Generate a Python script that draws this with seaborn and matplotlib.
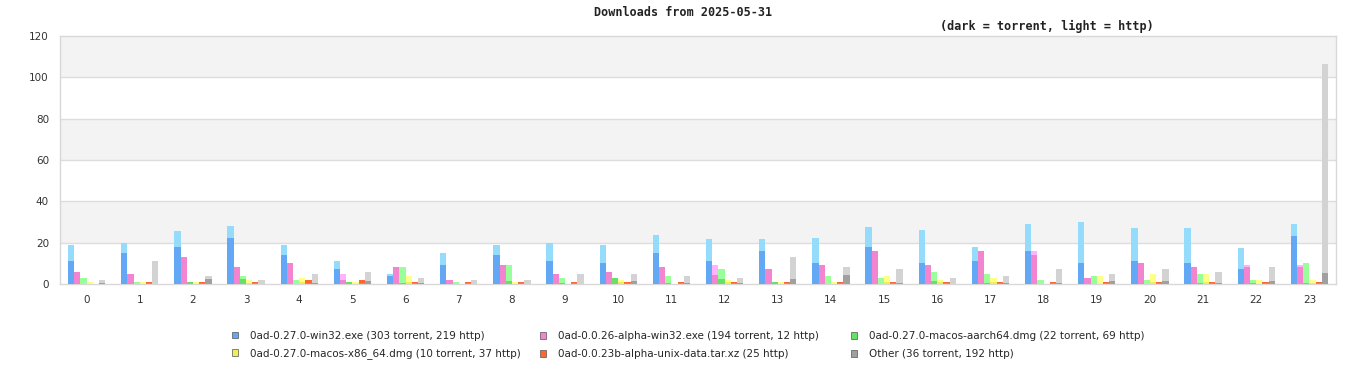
import numpy as np
import pandas as pd
import matplotlib
matplotlib.use("Agg")
import matplotlib.pyplot as plt
import seaborn as sns
from matplotlib.patches import Patch

hours = list(range(24))

series_names = [
    "0ad-0.27.0-win32.exe (303 torrent, 219 http)",
    "0ad-0.0.26-alpha-win32.exe (194 torrent, 12 http)",
    "0ad-0.27.0-macos-aarch64.dmg (22 torrent, 69 http)",
    "0ad-0.27.0-macos-x86_64.dmg (10 torrent, 37 http)",
    "0ad-0.0.23b-alpha-unix-data.tar.xz (25 http)",
    "Other (36 torrent, 192 http)",
]

win32_torrent = [11.0, 15.0, 17.7, 22.2, 13.9, 7.2, 3.8, 9.1, 13.9, 11.0, 10.1, 14.9,
                 11.0, 15.9, 10.1, 17.8, 10.1, 11.0, 15.9, 10.1, 11.0, 10.1, 7.2, 23.1]
win32_http = [8, 5, 8, 6, 5, 4, 1, 6, 5, 9, 9, 9, 11, 6, 12, 10, 16, 7, 13, 20, 16, 17, 10, 6]

a26_torrent = [5.8, 4.8, 13.0, 8.2, 10.2, 1.8, 8.2, 2.0, 9.2, 4.8, 5.8, 8.2,
               4.2, 7.3, 9.2, 16.0, 9.2, 16.0, 14.0, 2.9, 10.2, 8.2, 8.2, 8.2]
a26_http = [0, 0, 0, 0, 0, 3, 0, 0, 0, 0, 0, 0, 5, 0, 0, 0, 0, 0, 2, 0, 0, 0, 1, 1]

aarch_torrent = [0, 0, 1, 2.4, 0, 1, 0.5, 0, 1.5, 0.5, 3, 0.5,
                 2.4, 1, 0, 0, 1.5, 0.5, 0, 0, 0, 0.5, 0.5, 0.5]
aarch_http = [3, 1, 0, 1.6, 2, 0, 7.7, 1, 7.7, 2.5, 0, 3.5,
              4.9, 0, 4, 3, 4.3, 4.3, 2, 4, 2, 4.5, 1.5, 9.7]

x86_torrent = [0, 0, 0, 0.5, 1, 0, 1, 0, 0, 0, 1, 0,
               1, 0, 0, 1, 1, 1, 0, 0, 1, 1, 0, 0.5]
x86_http = [1, 1, 1, 1.5, 2, 1, 3, 0, 1, 0, 1, 0,
            1, 1, 1, 3, 1, 2, 0, 4, 4, 4, 2, 1.5]

unix_torrent = [0] * 24
unix_http = [0, 1, 1, 1, 2, 2, 1, 1, 1, 1, 1, 1, 1, 1, 1, 1, 1, 1, 1, 1, 1, 1, 1, 1]

other_torrent = [0.5, 0, 2.4, 0, 0.5, 1.5, 0.5, 0, 0, 0, 1.5, 0.5,
                 0.5, 2.4, 4.4, 0.5, 0, 0.5, 0.5, 1.5, 1.5, 0.5, 1.5, 5.3]
other_http = [1.5, 11, 1.5, 2, 4.3, 4.3, 2.4, 2, 2, 4.8, 3.3, 3.4,
              2.4, 10.6, 3.8, 6.8, 2.9, 3.4, 6.8, 3.3, 5.8, 5.3, 6.7, 101.2]

torrents = [win32_torrent, a26_torrent, aarch_torrent, x86_torrent, unix_torrent, other_torrent]
https = [win32_http, a26_http, aarch_http, x86_http, unix_http, other_http]

dark_colors = ["#62a8f4", "#f385d0", "#66e066", "#eeee55", "#ff6633", "#a0a0a0"]
light_colors = ["#95dcfc", "#ffb3ff", "#99ff99", "#ffff88", "#ff6633", "#d3d3d3"]

rows = []
for name, t, h in zip(series_names, torrents, https):
    for hr, tv, hv in zip(hours, t, h):
        rows.append({"hour": hr, "series": name, "torrent": tv, "total": tv + hv})
df = pd.DataFrame(rows)

sns.set_theme(style="white")
plt.rcParams["font.family"] = ["DejaVu Sans"]

fig = plt.figure(figsize=(13.66, 3.8), dpi=100)
ax = fig.add_axes([60 / 1366, 1 - 284 / 380, (1336 - 60) / 1366, (284 - 36) / 380])

for lo in (20, 60, 100):
    ax.axhspan(lo, lo + 20, color="#f3f3f3", zorder=0, lw=0)
for y in (20, 40, 60, 80, 100):
    ax.axhline(y, color="#dddddd", lw=1, zorder=0.5)

sns.barplot(data=df, x="hour", y="total", hue="series", hue_order=series_names,
            palette=light_colors, width=0.7, errorbar=None, saturation=1,
            legend=False, ax=ax, zorder=2, linewidth=0)
sns.barplot(data=df, x="hour", y="torrent", hue="series", hue_order=series_names,
            palette=dark_colors, width=0.7, errorbar=None, saturation=1,
            legend=False, ax=ax, zorder=3, linewidth=0)

ax.set_ylim(0, 120)
ax.set_xlim(-0.5, 23.5)
ax.set_yticks(range(0, 121, 20))
ax.set_xlabel("")
ax.set_ylabel("")
ax.tick_params(axis="both", length=0, labelsize=7.5, colors="#333333", pad=8)
for s in ax.spines.values():
    s.set_color("#d8d8d8")
    s.set_linewidth(1)

fig.text(0.5, 1 - 13 / 380, "Downloads from 2025-05-31", ha="center", va="center",
         family="DejaVu Sans Mono", fontsize=8.5, fontweight="bold", color="#222222")
fig.text(1047 / 1366, 1 - 26 / 380, "(dark = torrent, light = http)", ha="center", va="center",
         family="DejaVu Sans Mono", fontsize=8.5, fontweight="bold", color="#222222")

# legend: three fixed-width columns, two rows
columns = [[0, 3], [1, 4], [2, 5]]
col_x = [232, 540, 851]
for cx, idxs in zip(col_x, columns):
    handles = [Patch(facecolor=dark_colors[i], edgecolor="#555555", linewidth=0.5) for i in idxs]
    labels = [series_names[i] for i in idxs]
    fig.legend(handles, labels, loc="center left", bbox_to_anchor=(cx / 1366, 1 - 345 / 380),
               ncol=1, frameon=False, fontsize=7.5, handlelength=0.6, handleheight=0.6,
               handletextpad=1.1, labelspacing=0.75, borderaxespad=0, borderpad=0)

fig.savefig("out.png", dpi=100)
